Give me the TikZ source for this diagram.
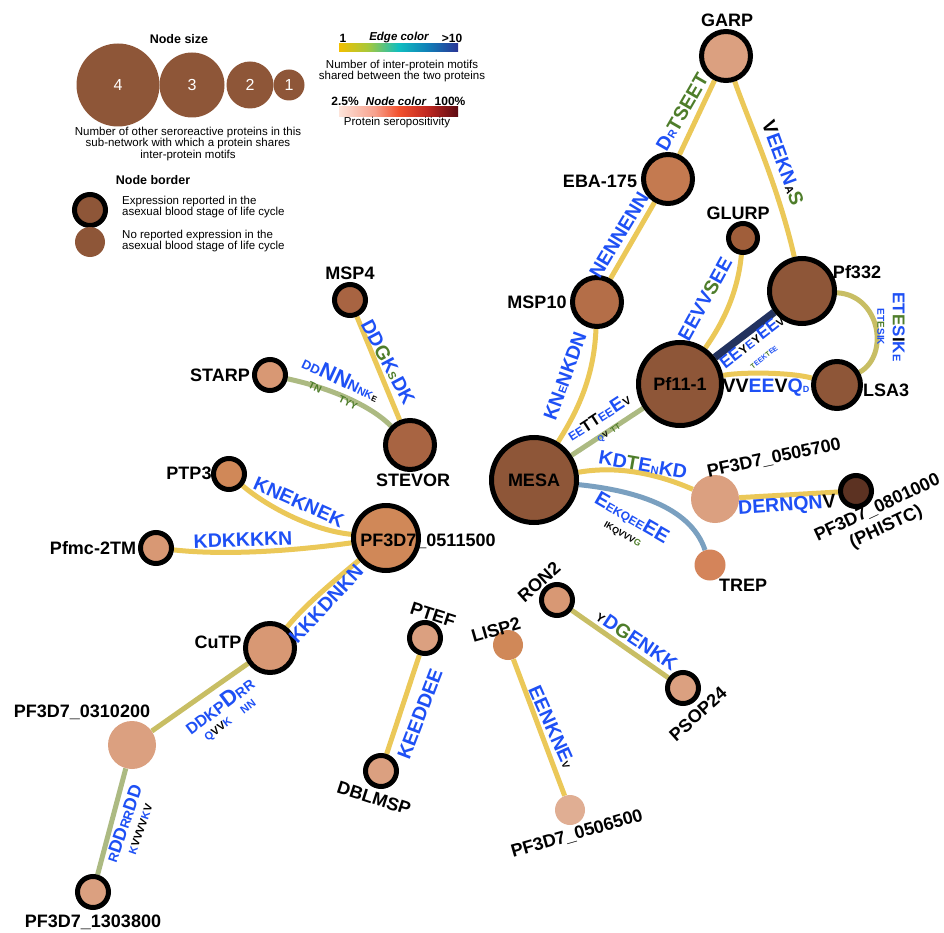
\documentclass[tikz,border=0pt]{standalone}
\usepackage{fontspec}
\setmainfont{Liberation Sans}
\definecolor{lb}{RGB}{30,80,245}
\definecolor{lg}{RGB}{78,125,42}
\definecolor{eY}{RGB}{235,200,88}
\definecolor{eO}{RGB}{200,190,100}
\definecolor{eS}{RGB}{172,186,130}
\definecolor{eN}{RGB}{34,50,95}
\definecolor{eB}{RGB}{122,160,192}
\definecolor{nD}{HTML}{8E5638}
\definecolor{cA}{HTML}{DBA080}
\definecolor{cB}{HTML}{D89874}
\definecolor{cC}{HTML}{D08858}
\definecolor{cD}{HTML}{C47A50}
\definecolor{cE}{HTML}{B46E48}
\definecolor{cF}{HTML}{A86442}
\definecolor{cG}{HTML}{A05E3A}
\definecolor{cH}{HTML}{5C3222}
\definecolor{cI}{HTML}{D4845A}
\definecolor{gY}{HTML}{F2BF00}
\definecolor{gYG}{HTML}{A8C83A}
\definecolor{gC}{HTML}{10BEC0}
\definecolor{gT}{HTML}{1080B8}
\definecolor{gB}{HTML}{2A3596}
\definecolor{rA}{HTML}{FDE4DA}
\definecolor{rB}{HTML}{F7A08C}
\definecolor{rC}{HTML}{F2522E}
\definecolor{rD}{HTML}{C02820}
\definecolor{rE}{HTML}{5C0A12}
\pgfdeclarehorizontalshading{edgegrad}{100bp}{color(0bp)=(gY); color(25bp)=(gY); color(37bp)=(gYG); color(50bp)=(gC); color(62bp)=(gT); color(75bp)=(gB); color(100bp)=(gB)}
\pgfdeclarehorizontalshading{nodegrad}{100bp}{color(0bp)=(rA); color(25bp)=(rA); color(40bp)=(rB); color(50bp)=(rC); color(62bp)=(rD); color(75bp)=(rE); color(100bp)=(rE)}
\newcommand\lgB[1]{\textcolor{lb}{#1}}
\newcommand\lgG[1]{\textcolor{lg}{#1}}
\newcommand\lgK[1]{\textcolor{black}{#1}}
\newcommand\myfs[1]{\fontsize{#1}{#1}\selectfont}
\pgfdeclarelayer{bgw}
\pgfdeclarelayer{bg}
\pgfsetlayers{bgw,bg,main}
\begin{document}
\begin{tikzpicture}[x=1pt,y=-1pt,
  bn/.style={circle,draw=black,line width=5pt,inner sep=0pt},
  pn/.style={circle,inner sep=0pt},
  nl/.style={font=\bfseries\myfs{18},inner sep=0pt},
  el/.style={font=\bfseries\fontsize{19.5}{19.5}\selectfont,inner sep=0pt,text=lb},
  ed/.style={line width=5pt},
  lgt/.style={font=\fontsize{11.5}{11.5}\selectfont,inner sep=0pt},
  lgh/.style={font=\bfseries\fontsize{12.5}{12.5}\selectfont,inner sep=0pt},
  lgn/.style={circle,fill=nD,inner sep=0pt,text=white,font=\myfs{16}}]
\useasboundingbox (0,0) rectangle (944,933);
\begin{pgfonlayer}{bgw}
\fill[white] (0,0) rectangle (944,933);
\end{pgfonlayer}

% ---------- nodes ----------
\node[bn,fill=cA,minimum size=49pt] (GARP) at (726,56) {};
\node[bn,fill=cD,minimum size=49pt] (EBA) at (668,179) {};
\node[bn,fill=cG,minimum size=29pt] (GLURP) at (743,238) {};
\node[bn,fill=nD,minimum size=65pt] (Pf332) at (802,291) {};
\node[bn,fill=cE,minimum size=49pt] (MSP10) at (597,302) {};
\node[bn,fill=nD,minimum size=83pt,font=\bfseries\myfs{18}] (Pf11) at (680,384) {Pf11-1};
\node[bn,fill=nD,minimum size=47pt] (LSA3) at (837,385) {};
\node[bn,fill=nD,minimum size=85pt,font=\bfseries\myfs{18}] (MESA) at (534,480) {MESA};
\node[pn,fill=cA,minimum size=48pt] (P0505700) at (715,499) {};
\node[bn,fill=cH,minimum size=31pt] (P0801000) at (856,491) {};
\node[pn,fill=cI,minimum size=31pt] (TREP) at (710,565) {};
\node[bn,fill=cF,minimum size=31pt] (MSP4) at (350,300) {};
\node[bn,fill=cB,minimum size=31pt] (STARP) at (270,375) {};
\node[bn,fill=cF,minimum size=49pt] (STEVOR) at (410,445) {};
\node[bn,fill=cC,minimum size=31pt] (PTP3) at (229,474) {};
\node[bn,fill=cB,minimum size=31pt] (Pfmc) at (156,548) {};
\node[bn,fill=cC,minimum size=65pt] (P0511500) at (386,538) {};
\node[bn,fill=cB,minimum size=49pt] (CuTP) at (270,648) {};
\node[pn,fill=cA,minimum size=48pt] (P0310200) at (132,745) {};
\node[bn,fill=cA,minimum size=31pt] (P1303800) at (93,892) {};
\node[bn,fill=cA,minimum size=31pt] (PTEF) at (425,638) {};
\node[bn,fill=cA,minimum size=31pt] (DBLMSP) at (381,771) {};
\node[pn,fill=cC,minimum size=30pt] (LISP2) at (508,645) {};
\node[pn,fill=cA!85!white,minimum size=30pt] (P0506500) at (570,810) {};
\node[bn,fill=cB,minimum size=31pt] (RON2) at (557,600) {};
\node[bn,fill=cA,minimum size=31pt] (PSOP24) at (683,688) {};

% ---------- edges ----------
\begin{pgfonlayer}{bg}
\draw[ed,eY] (GARP) -- (EBA);
\draw[ed,eY] (GARP) .. controls (748,120) and (778,185) .. (Pf332);
\draw[ed,eY] (EBA) -- (MSP10);
\draw[ed,eY] (MSP10) .. controls (594,380) and (575,415) .. (MESA);
\draw[ed,eY] (GLURP) .. controls (738,290) and (725,320) .. (Pf11);
\draw[line width=7.5pt,eN] (Pf332) -- (Pf11);
\draw[ed,eO] (Pf332) .. controls (880,295) and (890,355) .. (LSA3);
\draw[ed,eY] (Pf11) .. controls (740,372) and (790,372) .. (LSA3);
\draw[ed,eS] (MESA) -- (Pf11);
\draw[ed,eY] (MESA) .. controls (620,465) and (660,475) .. (P0505700);
\draw[ed,eY] (P0505700) -- (P0801000);
\draw[ed,eB] (MESA) .. controls (630,490) and (690,505) .. (TREP);
\draw[ed,eY] (MSP4) -- (STEVOR);
\draw[ed,eS] (STARP) .. controls (330,388) and (370,405) .. (STEVOR);
\draw[ed,eY] (PTP3) .. controls (265,505) and (310,530) .. (P0511500);
\draw[ed,eY] (Pfmc) .. controls (230,556) and (300,550) .. (P0511500);
\draw[ed,eY] (CuTP) .. controls (305,605) and (335,580) .. (P0511500);
\draw[ed,eO] (CuTP) -- (P0310200);
\draw[ed,eS] (P0310200) -- (P1303800);
\draw[ed,eY] (PTEF) -- (DBLMSP);
\draw[ed,eY] (LISP2) -- (P0506500);
\draw[ed,eO] (RON2) -- (PSOP24);
\end{pgfonlayer}

% ---------- node labels ----------
\node[nl] (tGARP) at (727,20) {GARP};
\node[nl] (tEBA) at (600,181) {EBA-175};
\node[nl] (tGLURP) at (738,213) {GLURP};
\node[nl] (tPf332) at (857,272) {Pf332};
\node[nl] (tMSP10) at (537,302) {MSP10};
\node[nl] (tLSA3) at (886,390) {LSA3};
\node[nl,rotate=12] (tP0505700) at (774,458) {PF3D7\_0505700};
\node[nl,rotate=25,align=center] (tP0801000) at (882,518) {PF3D7\_0801000\\[3pt](PHISTC)};
\node[nl] (tTREP) at (743,585) {TREP};
\node[nl] (tMSP4) at (350,273) {MSP4};
\node[nl] (tSTARP) at (220,375) {STARP};
\node[nl] (tSTEVOR) at (413,480) {STEVOR};
\node[nl] (tPTP3) at (189,473) {PTP3};
\node[nl] (tPfmc) at (93,548) {Pfmc-2TM};
\node[nl] (tP0511500) at (428,541) {PF3D7\_0511500};
\node[nl] (tCuTP) at (218,642) {CuTP};
\node[nl] (tP0310200) at (82,712) {PF3D7\_0310200};
\node[nl] (tP1303800) at (93,922) {PF3D7\_1303800};
\node[nl,rotate=-18] (tPTEF) at (433,615) {PTEF};
\node[nl,rotate=-18] (tDBLMSP) at (374,798) {DBLMSP};
\node[nl,rotate=16] (tLISP2) at (496,630) {LISP2};
\node[nl,rotate=16] (tP0506500) at (577,834) {PF3D7\_0506500};
\node[nl,rotate=42] (tRON2) at (539,582) {RON2};
\node[nl,rotate=42] (tPSOP24) at (698,714) {PSOP24};

% ---------- edge labels ----------
\node[el,rotate=60] (l1) at (682,112) {D{\myfs{11}R}\lgG{TSEET}};
\node[el,rotate=-70] (l2) at (783,163) {\lgK{V}EEKN{\myfs{11}\lgK{A}}\lgG{S}};
\node[el,rotate=59] (l3) at (619,235) {NENNENN};
\node[el,rotate=70] (l4) at (565,376) {KN{\myfs{11}E}NKDN};
\node[el,rotate=61] (l5) at (705,299) {EEVV\lgG{S}EE};
\node[el,rotate=38,align=center] (l6) at (757,348) {\myfs{17}EE\myfs{12}\lgK{Y}E\lgK{Y}\myfs{17}EE\myfs{11}\lgK{V}\\[-3pt]\myfs{7}\lgG{T}EEK\lgG{T}EE};
\node[el,rotate=-90,align=center] (l7) at (891,327) {\myfs{17}ET\lgG{E}S\lgK{I}K{\myfs{11}E}\\[-4pt]\myfs{10}ET\lgG{E}SIK};
\node[el] (l8) at (766,388) {\lgK{VV}EE\lgK{V}Q{\myfs{9}D}};
\node[el,rotate=33,align=center] (l9) at (603,424) {\myfs{12}EE\myfs{16}\lgK{TT}\myfs{12}EE\myfs{19}E\myfs{11}\lgK{V}\\[-4pt]\myfs{8}Q\lgK{V}\ \ \lgG{TT}};
\node[el,rotate=-10] (l10) at (643,465) {KD\lgG{T}E{\myfs{11}N}KD};
\node[el,rotate=4] (l11) at (787,506) {DERNQN\lgK{V}};
\node[el,rotate=-30,align=center] (l12) at (628,525) {\myfs{20}E\myfs{12}EKQEE\myfs{20}EE\\[-4pt]\myfs{9}\lgK{IKQVVV}\lgG{G}};
\node[el,rotate=-62] (l13) at (388,362) {DD\lgG{G}K{\myfs{11}\lgG{S}}DK};
\node[el,rotate=-25,align=center] (l14) at (338,385) {\myfs{13}DD\myfs{22}NN\myfs{15}N\myfs{11}NK\myfs{8}\lgK{E}\\[-4pt]\myfs{10}\lgG{TN}\hspace{20pt}\lgG{TYY}};
\node[el,rotate=-24] (l15) at (299,502) {KNEKNEK};
\node[el,rotate=2] (l16) at (243,540) {KDKKKKN};
\node[el,rotate=47] (l17) at (326,604) {KKKDNKN};
\node[el,rotate=37,align=center] (l18) at (224,712) {\myfs{16}DDKP\myfs{22}D\myfs{14}RR\\[-5pt]\myfs{11}Q\lgK{VV}K\hspace{14pt}NN};
\node[el,rotate=71,align=center] (l19) at (131,826) {\myfs{13}R\myfs{18}DD\myfs{13}RR\myfs{18}DD\\[-4pt]\myfs{11}K\lgK{VVVV}K\lgK{V}};
\node[el,rotate=69] (l20) at (420,714) {KEEDDEE};
\node[el,rotate=-66] (l21) at (552,727) {EENKNE{\myfs{10}\lgK{V}}};
\node[el,rotate=-34] (l22) at (637,640) {{\myfs{12}\lgK{Y}}D\lgG{G}ENKK};

% ---------- legend ----------
\node[lgh] (lgsize) at (179,39) {Node size};
\node[lgn,minimum size=83pt] (lg4) at (118,85) {4};
\node[lgn,minimum size=65pt] (lg3) at (192,85) {3};
\node[lgn,minimum size=47pt] (lg2) at (250,85) {2};
\node[lgn,minimum size=31pt] (lg1) at (289,85) {1};
\node[lgt,align=center] (lgsizetxt) at (188,144) {Number of other seroreactive proteins in this\\sub-network with which a protein shares\\inter-protein motifs};
\node[lgh] (lgborder) at (153,180) {Node border};
\node[bn,fill=nD,minimum size=31pt] (lgb1) at (90,210) {};
\node[pn,fill=nD,minimum size=30pt] (lgb2) at (90,242) {};
\node[lgt,anchor=west,align=left] (lgb1t) at (122,207) {Expression reported in the\\asexual blood stage of life cycle};
\node[lgt,anchor=west,align=left] (lgb2t) at (122,241) {No reported expression in the\\asexual blood stage of life cycle};

\shade[shading=edgegrad] (339,44) rectangle (458,52);
\node[lgh,font=\bfseries\myfs{12}] (lge1) at (343,38) {1};
\node[lgh,font=\bfseries\itshape\myfs{11.5}] (lgetitle) at (399,38) {Edge color};
\node[lgh,font=\bfseries\myfs{12}] (lge10) at (452,38) {\textgreater10};
\node[lgt,align=center] (lgetxt) at (402,71) {Number of inter-protein motifs\\shared between the two proteins};

\shade[shading=nodegrad] (339,107) rectangle (458,117);
\node[lgh,font=\bfseries\myfs{12}] (lgn1) at (345,101) {2.5\%};
\node[lgh,font=\bfseries\itshape\myfs{11.5}] (lgntitle) at (396,101) {Node color};
\node[lgh,font=\bfseries\myfs{12}] (lgn100) at (450,101) {100\%};
\node[lgt] (lgntxt) at (397,123) {Protein seropositivity};
\end{tikzpicture}
\end{document}
